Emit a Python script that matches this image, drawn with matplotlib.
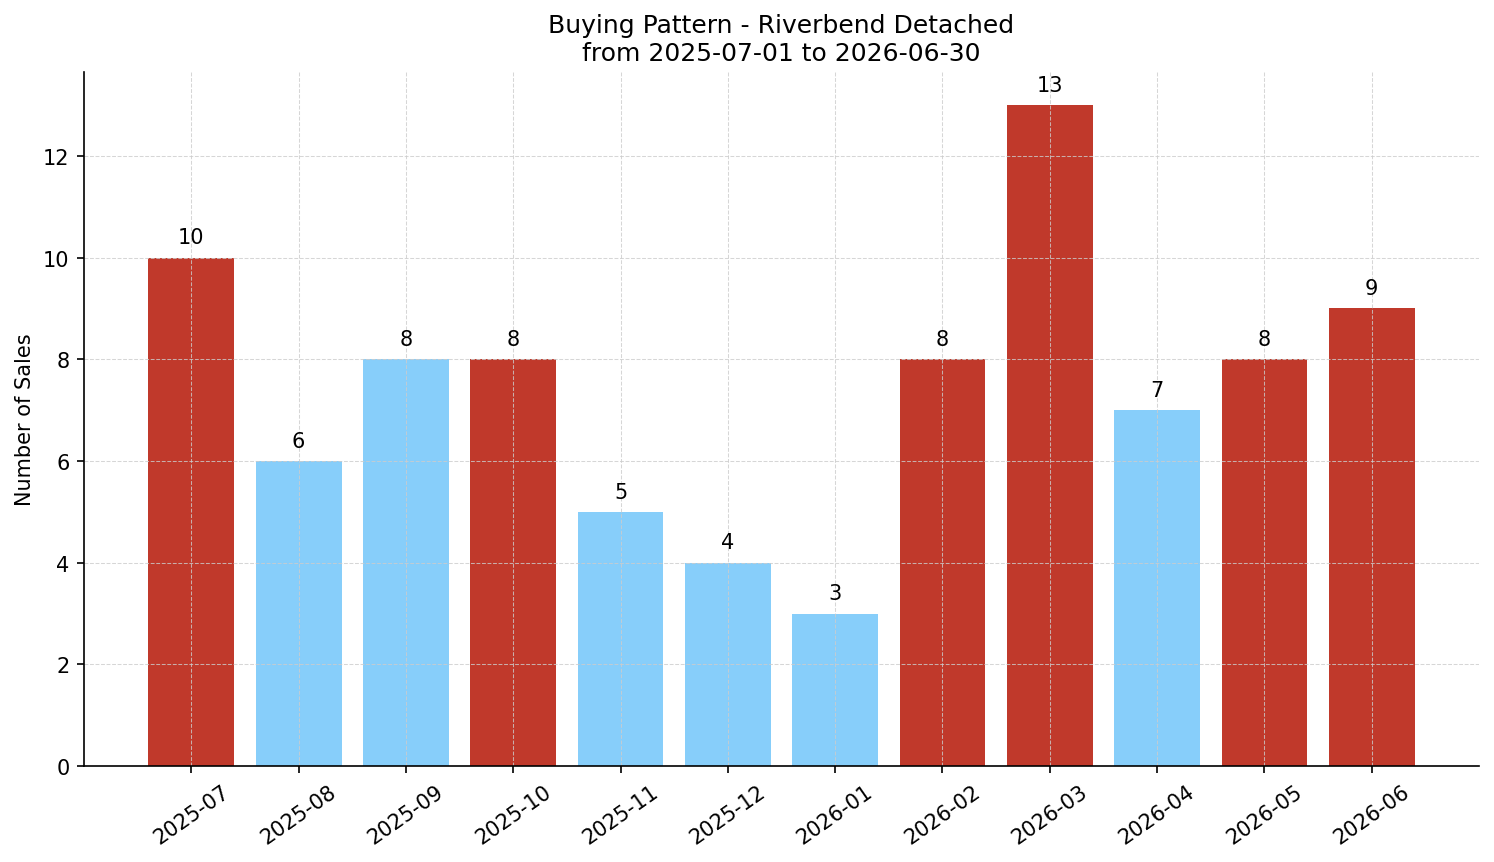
import matplotlib.pyplot as plt
import numpy as np

# monthly sales, Riverbend Detached
months = ['2025-07', '2025-08', '2025-09', '2025-10', '2025-11', '2025-12',
          '2026-01', '2026-02', '2026-03', '2026-04', '2026-05', '2026-06']
sales = [10, 6, 8, 8, 5, 4, 3, 8, 13, 7, 8, 9]
# months drawn in red in the original
highlight = [True, False, False, True, False, False,
             False, True, True, False, True, True]

colors = ['#c0392b' if h else '#87cefa' for h in highlight]

fig = plt.figure(figsize=(9.96, 5.753), dpi=150)
ax = fig.add_axes([0.0562, 0.1112, 0.9338, 0.8042])

x = np.arange(len(months))
bars = ax.bar(x, sales, color=colors, width=0.8)
for b, s in zip(bars, sales):
    ax.text(b.get_x() + b.get_width() / 2, s + 0.2, str(s),
            ha='center', va='bottom', fontsize=10)

ax.set_xticks(x)
ax.set_xticklabels(months, rotation=35)
ax.set_xlim(-1, 12)
ax.set_ylabel('Number of Sales')
ax.set_title('Buying Pattern - Riverbend Detached\nfrom 2025-07-01 to 2026-06-30')
ax.grid(True, linestyle='--', color='#cccccc', alpha=0.8, linewidth=0.5)
ax.spines['top'].set_visible(False)
ax.spines['right'].set_visible(False)

plt.savefig('out.png')
